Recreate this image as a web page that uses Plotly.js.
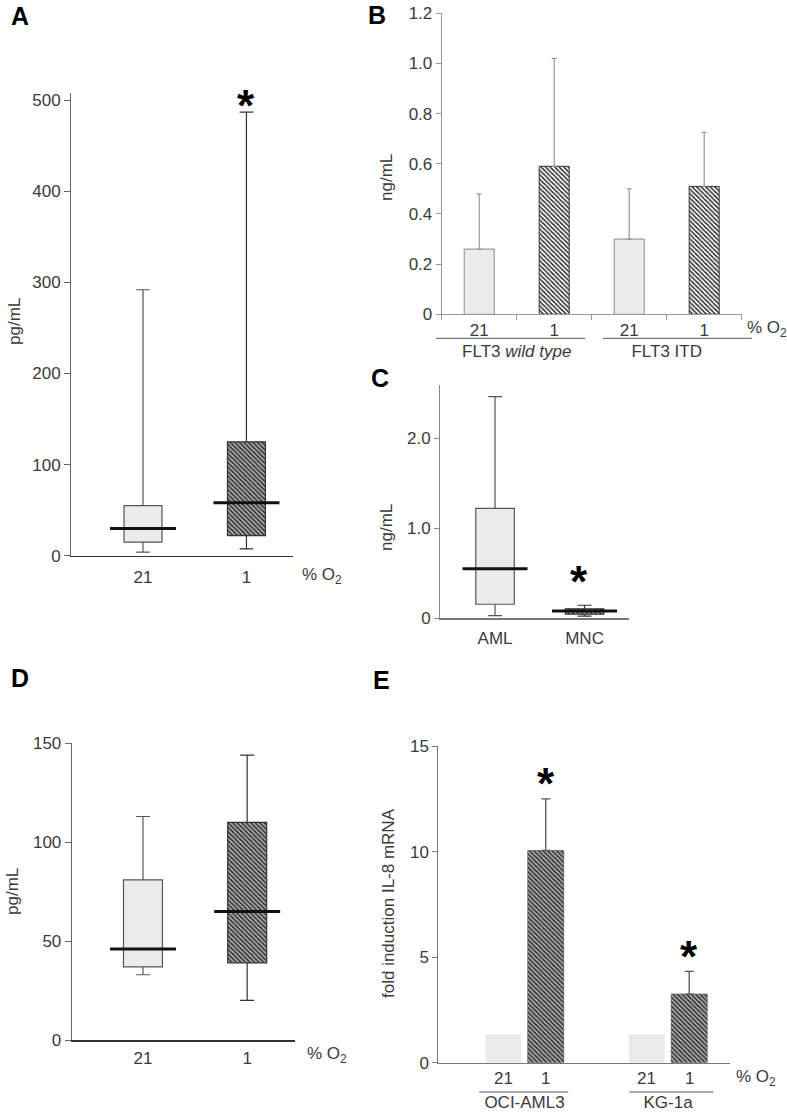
<!DOCTYPE html>
<html><head><meta charset="utf-8">
<script src="https://cdn.plot.ly/plotly-3.0.1.min.js"></script>
<style>html,body{margin:0;padding:0;background:#fff}#chart{width:787px;height:1114px}</style>
</head><body><div id="chart"></div>
<script>
// ---------- DATA ----------
// Panel A: IL-8 (pg/mL), box plots at 21 % vs 1 % O2
const aCats = ["21", "1"];
const aLower = [4, 7.5];
const aQ1 = [15, 22];
const aMedian = [30, 58];
const aQ3 = [55, 125];
const aUpper = [292, 487];
const aSig = [false, true];

// Panel B: ng/mL, mean + SD by FLT3 status
const bGroups = ["FLT3 <i>wild type</i>", "FLT3 ITD"];
const bO2 = ["21", "1"];
const bMean = [0.26, 0.59, 0.30, 0.51];
const bSD = [0.22, 0.43, 0.20, 0.215];
const bTicks = [0, 0.2, 0.4, 0.6, 0.8, 1.0, 1.2];

// Panel C: ng/mL, AML vs MNC
const cCats = ["AML", "MNC"];
const cLower = [0.03, 0.025];
const cQ1 = [0.156, 0.045];
const cMedian = [0.55, 0.08];
const cQ3 = [1.22, 0.105];
const cUpper = [2.46, 0.145];
const cSig = [false, true];
const cTicks = [0, 1, 2];

// Panel D: pg/mL, 21 % vs 1 % O2
const dCats = ["21", "1"];
const dLower = [33, 20];
const dQ1 = [37, 39];
const dMedian = [46, 65];
const dQ3 = [81, 110];
const dUpper = [113, 144];

// Panel E: fold induction IL-8 mRNA
const eLines = ["OCI-AML3", "KG-1a"];
const eO2 = ["21", "1"];
const eFold21 = [1.35, 1.35];
const eFold1 = [10.05, 3.25];
const eSD1 = [2.45, 1.08];
const eSig = [true, true];

// ---------- STYLE / LAYOUT HELPERS ----------
const W = 787, H = 1114;
const FONT = "Liberation Sans, Arial, sans-serif";
const TXT = "#3a3a3a";
const LIGHT = "#ebebeb";
const px = x => x / W;
const py = y => 1 - y / H;
const dx = (a, b) => [a / W, b / W];
const dy = (top, bottom) => [1 - bottom / H, 1 - top / H];
const hatch = {shape: "\\", fgcolor: "#2a2a2a", bgcolor: "#b0b0b0", size: 3.2, solidity: 0.45};

const traces = [];
const annotations = [];
const shapes = [];

function boxPanel(cats, lower, q1, med, q3, upper, xa, ya, boxW, medLen, hatchedIdx) {
  cats.forEach((c, i) => {
    const hatched = hatchedIdx.includes(i);
    if (hatched) {
      traces.push({
        type: "bar", x: [c], base: [q1[i]], y: [q3[i] - q1[i]], width: boxW,
        xaxis: xa, yaxis: ya, hoverinfo: "skip",
        marker: {color: hatch.fgcolor, pattern: hatch, line: {width: 0}}
      });
    }
    traces.push({
      type: "box", x: [c], q1: [q1[i]], median: [med[i]], q3: [q3[i]],
      lowerfence: [lower[i]], upperfence: [upper[i]], width: boxW,
      boxpoints: false, whiskerwidth: 0.36,
      fillcolor: hatched ? "rgba(0,0,0,0)" : LIGHT,
      line: {color: hatched ? "#333" : "#555", width: 1.2},
      xaxis: xa, yaxis: ya, hoverinfo: "skip"
    });
  });
  traces.push({
    type: "scatter", mode: "markers", x: cats, y: med, xaxis: xa, yaxis: ya,
    hoverinfo: "skip", cliponaxis: false,
    marker: {symbol: "line-ew", size: medLen / 1.4, color: "#111", line: {width: 3, color: "#111"}}
  });
}

// A
boxPanel(aCats, aLower, aQ1, aMedian, aQ3, aUpper, "x", "y", 0.367, 66, [1]);
// C
boxPanel(cCats, cLower, cQ1, cMedian, cQ3, cUpper, "x3", "y3", 0.43, 65, [1]);
// D
boxPanel(dCats, dLower, dQ1, dMedian, dQ3, dUpper, "x4", "y4", 0.374, 66, [1]);

// B: bars with upward SD
const bX0 = [], bX1 = [];
bGroups.forEach(g => bO2.forEach(o => { bX0.push(g); bX1.push(o); }));
const bIsLow = bX1.map(o => o === bO2[1]);
traces.push({
  type: "bar", x: [bX0, bX1], y: bMean, width: 0.4, xaxis: "x2", yaxis: "y2",
  hoverinfo: "skip",
  marker: {
    color: bIsLow.map(h => h ? hatch.fgcolor : LIGHT),
    line: {color: bIsLow.map(h => h ? "#333" : "#888"), width: 1},
    pattern: {shape: bIsLow.map(h => h ? "\\" : ""), fgcolor: hatch.fgcolor, bgcolor: hatch.bgcolor,
              size: hatch.size, solidity: hatch.solidity}
  },
  error_y: {type: "data", symmetric: false, array: bSD, arrayminus: bSD.map(() => 0),
            color: "#999", thickness: 1.2, width: 2.5}
});

// E: grouped bars
traces.push({
  type: "bar", name: eO2[0], x: eLines, y: eFold21, xaxis: "x5", yaxis: "y5", hoverinfo: "skip",
  marker: {color: LIGHT, line: {width: 0}}
});
traces.push({
  type: "bar", name: eO2[1], x: eLines, y: eFold1, xaxis: "x5", yaxis: "y5", hoverinfo: "skip",
  marker: {color: hatch.fgcolor, pattern: hatch, line: {color: "#444", width: 0.6}},
  error_y: {type: "data", symmetric: false, array: eSD1, arrayminus: eSD1.map(() => 0),
            color: "#555", thickness: 1.3, width: 4.5}
});

// ---------- ANNOTATIONS ----------
function txt(text, x, y, opts) {
  annotations.push(Object.assign({
    text: text, x: px(x), y: py(y), xref: "paper", yref: "paper", showarrow: false,
    xanchor: "center", yanchor: "middle", font: {family: FONT, size: 17, color: TXT}
  }, opts || {}));
}
// panel letters
[["A", 20, 16], ["B", 377, 15], ["C", 380, 378], ["D", 20, 678], ["E", 381, 680]].forEach(l =>
  txt("<b>" + l[0] + "</b>", l[1], l[2], {font: {family: FONT, size: 25, color: "#000"}}));
// y titles
txt("pg/mL", 15, 322, {textangle: -90});
txt("ng/mL", 387, 178, {textangle: -90});
txt("ng/mL", 386, 528, {textangle: -90});
txt("pg/mL", 12, 892, {textangle: -90});
txt("fold induction IL-8 mRNA", 388, 903, {textangle: -90});
// % O2 labels
const o2 = "% O<sub>2</sub>";
txt(o2, 300, 576, {xanchor: "left"});
txt(o2, 745, 329, {xanchor: "left"});
txt(o2, 305, 1055, {xanchor: "left"});
txt(o2, 734, 1078, {xanchor: "left"});
// E oxygen labels under each bar
eLines.forEach((l, i) => {
  eO2.forEach((o, j) => {
    annotations.push({text: o, x: i, y: 0, xref: "x5", yref: "y5", showarrow: false,
      xshift: j === 0 ? -21.2 : 21.2, yshift: -15.5, xanchor: "center", yanchor: "middle",
      font: {family: FONT, size: 17, color: TXT}});
  });
});
// significance stars
const star = {family: FONT, size: 44, color: "#000"};
aSig.forEach((s, i) => { if (s) annotations.push({text: "<b>*</b>", x: i, y: aUpper[i], xref: "x", yref: "y",
  showarrow: false, yanchor: "middle", yshift: 7, font: star}); });
cSig.forEach((s, i) => { if (s) annotations.push({text: "<b>*</b>", x: i, y: cUpper[i], xref: "x3", yref: "y3",
  showarrow: false, yanchor: "middle", yshift: 24, xshift: -6, font: star}); });
eSig.forEach((s, i) => { if (s) annotations.push({text: "<b>*</b>", x: i, y: eFold1[i] + eSD1[i], xref: "x5", yref: "y5",
  showarrow: false, yanchor: "middle", xshift: 21.2, yshift: 15, font: star}); });

// group underlines
[[436, 585, 338.3], [602.7, 751.7, 338.3], [479.3, 568.3, 1092], [629.3, 713.3, 1092]].forEach(s =>
  shapes.push({type: "line", xref: "paper", yref: "paper", x0: px(s[0]), x1: px(s[1]), y0: py(s[2]), y1: py(s[2]),
    line: {color: "#555", width: 1}}));

// ---------- AXES ----------
const tickfont = {family: FONT, size: 17, color: TXT};
function xAx(domain, range, anchor, extra) {
  return Object.assign({domain: domain, range: range, anchor: anchor, type: "category", showline: true,
    linecolor: "#333", linewidth: 1.5, ticks: "", showgrid: false, zeroline: false, tickfont: tickfont,
    fixedrange: true}, extra || {});
}
function yAx(domain, range, anchor, extra) {
  return Object.assign({domain: domain, range: range, anchor: anchor, showline: true, linecolor: "#666",
    linewidth: 1, ticks: "outside", ticklen: 6, tickcolor: "#666", tickwidth: 1, showgrid: false,
    zeroline: false, tickfont: tickfont, fixedrange: true}, extra || {});
}

const layout = {
  width: W, height: H, margin: {l: 0, r: 0, t: 0, b: 0}, paper_bgcolor: "#fff", plot_bgcolor: "#fff",
  showlegend: false, barmode: "group", bargap: 0.409, bargroupgap: 0.151, boxmode: "overlay",
  font: {family: FONT, color: TXT},
  xaxis: xAx(dx(71, 293), [-0.696, 1.45], "y", {ticklabelstandoff: 5}),
  yaxis: yAx(dy(93, 555.7), [0, 508], "x", {tick0: 0, dtick: 100}),
  xaxis2: xAx(dx(441.7, 741.7), [-0.5, 3.5], "y2", {type: "multicategory", linecolor: "#999", linewidth: 1,
    ticks: "outside", ticklen: 5, tickcolor: "#999", tickson: "boundaries", showdividers: false}),
  yaxis2: yAx(dy(13.3, 314.3), [0, 1.2], "x2", {tickvals: bTicks, ticktext: bTicks.map(v => v === 0 ? "0" : v.toFixed(1)),
    linecolor: "#999", tickcolor: "#999", ticklen: 5}),
  xaxis3: xAx(dx(440, 629.3), [-0.615, 1.5], "y3", {linecolor: "#777", ticklabelstandoff: 4}),
  yaxis3: yAx(dy(385, 618.3), [0, 2.59], "x3", {tickvals: cTicks, ticktext: cTicks.map(v => v === 0 ? "0" : v.toFixed(1)),
    linecolor: "#888", tickcolor: "#888", ticklen: 5}),
  xaxis4: xAx(dx(71.7, 295), [-0.684, 1.459], "y4", {ticklabelstandoff: 2}),
  yaxis4: yAx(dy(743.3, 1040), [0, 150], "x4", {tick0: 0, dtick: 50}),
  xaxis5: xAx(dx(438.3, 730), [-0.601, 1.432], "y5", {linecolor: "#777", linewidth: 1.2, ticklabelstandoff: 24}),
  yaxis5: yAx(dy(746, 1062.7), [0, 15], "x5", {tick0: 0, dtick: 5, linecolor: "#777", tickcolor: "#777", ticklen: 5}),
  annotations: annotations,
  shapes: shapes
};

Plotly.newPlot("chart", traces, layout, {displayModeBar: false, staticPlot: true});
</script>
</body></html>
